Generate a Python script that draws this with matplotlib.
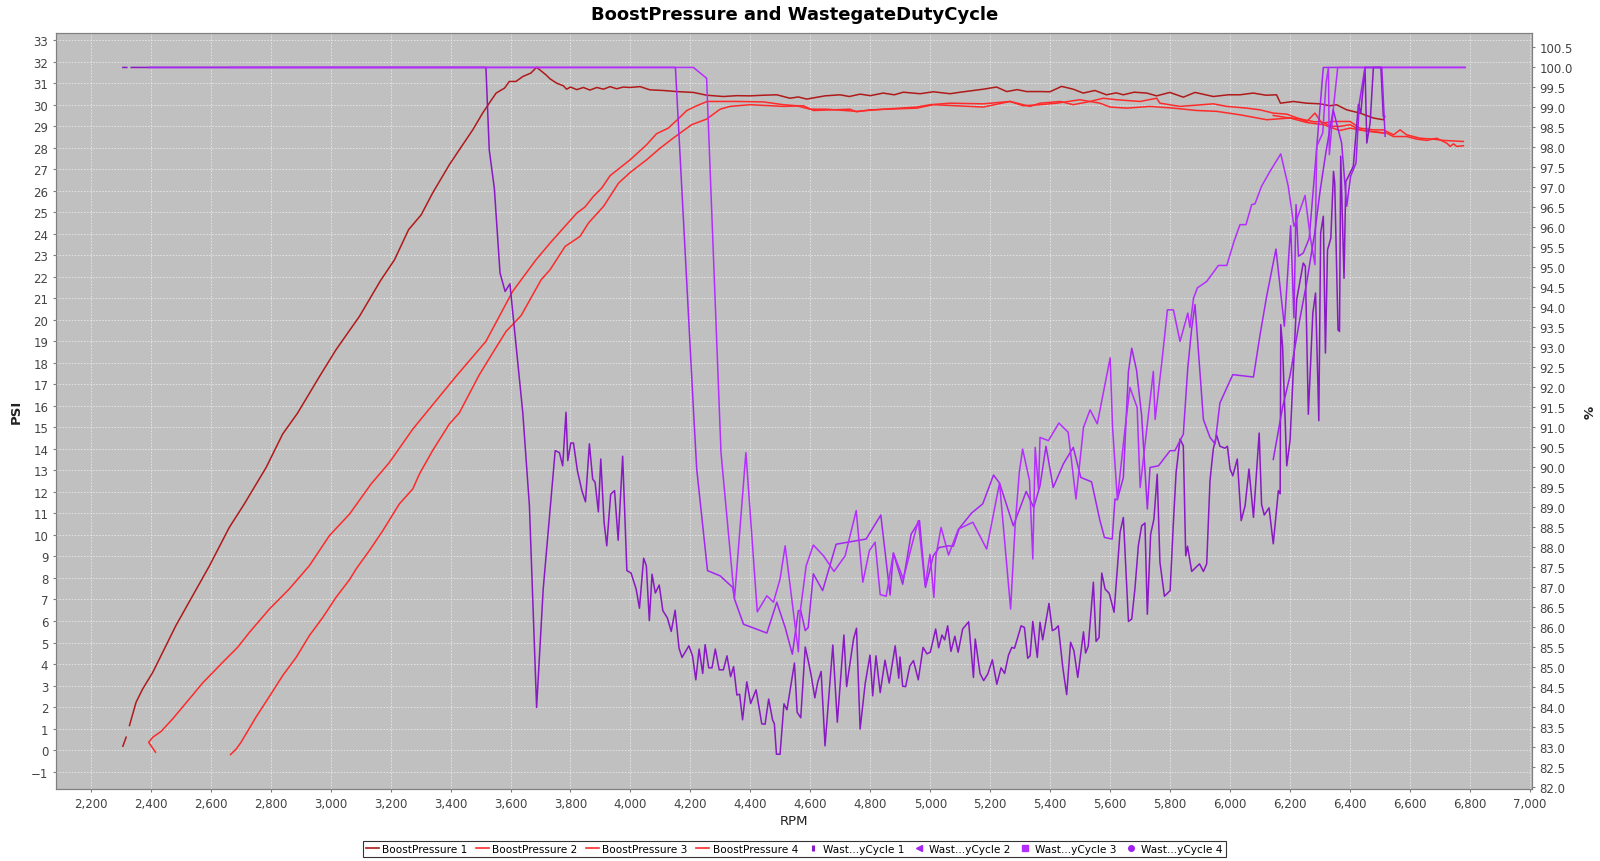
import numpy as np
import matplotlib
matplotlib.use('Agg')
import matplotlib.pyplot as plt
from matplotlib.lines import Line2D
from matplotlib.ticker import FuncFormatter, MultipleLocator

nan = np.nan

# ---------------- boost pressure (PSI) ----------------
boost1_rpm = [2307, 2318, nan, 2329, 2351, 2373, 2407, 2440, 2484, 2540, 2596, 2662, 2712, 2785, 2840,
              2890, 2963, 3018, 3096, 3168, 3213, 3260, 3302, 3340, 3396, 3429, 3474, 3507, 3529, 3552,
              3580, 3596, 3618, 3641, 3668, 3687, 3718, 3732, 3754, 3776, 3787, 3800, 3821, 3843, 3865,
              3888, 3910, 3932, 3954, 3976, 3998, 4032, 4065, 4110, 4154, 4210, 4254, 4310, 4355, 4399,
              4444, 4488, 4532, 4560, 4588, 4620, 4649, 4699, 4730, 4766, 4800, 4843, 4880, 4910, 4966,
              5010, 5066, 5100, 5144, 5177, 5221, 5255, 5290, 5321, 5366, 5399, 5438, 5477, 5510, 5549,
              5588, 5620, 5644, 5680, 5722, 5755, 5799, 5844, 5883, 5944, 5994, 6033, 6077, 6120, 6155,
              6168, 6211, 6255, 6300, 6333, 6355, 6389, 6433, 6478, 6511, 6516]
boost1_psi = [0.18, 0.6, nan, 1.14, 2.22, 2.84, 3.62, 4.55, 5.79, 7.18, 8.57, 10.35, 11.44, 13.14, 14.69,
              15.67, 17.37, 18.61, 20.16, 21.86, 22.79, 24.19, 24.88, 25.89, 27.21, 27.9, 28.83, 29.61, 30.07, 30.54,
              30.77, 31.08, 31.08, 31.31, 31.47, 31.74, 31.39, 31.2, 31.0, 30.88, 30.72, 30.82, 30.7, 30.8, 30.68,
              30.8, 30.72, 30.84, 30.74, 30.82, 30.8, 30.84, 30.69, 30.66, 30.61, 30.57, 30.44, 30.38, 30.42, 30.41,
              30.44, 30.46, 30.3, 30.36, 30.26, 30.34, 30.41, 30.46, 30.38, 30.49, 30.42, 30.54, 30.46, 30.58, 30.51,
              30.6, 30.51, 30.58, 30.66, 30.72, 30.82, 30.61, 30.7, 30.61, 30.61, 30.6, 30.85, 30.72, 30.54, 30.66,
              30.46, 30.55, 30.46, 30.58, 30.54, 30.41, 30.57, 30.35, 30.57, 30.38, 30.46, 30.46, 30.54, 30.44, 30.46,
              30.07, 30.15, 30.07, 30.04, 29.95, 30.0, 29.76, 29.61, 29.38, 29.3, 29.45]

boost2_rpm = [2416, 2393, 2407, 2434, 2473, 2529, 2573, 2640, 2690, 2729, 2796, 2862, 2929, 2996, 3063,
              3135, 3196, 3274, 3318, 3418, 3518, 3607, 3685, 3732, 3776, 3821, 3848, 3876, 3904, 3932,
              3999, 4054, 4087, 4126, 4154, 4188, 4221, 4256, 4299, 4354, 4443, 4510, 4554, 4599, 4654,
              4754, 4843, 4955, 5000, 5066, 5177, 5266, 5310, 5366, 5422, 5499, 5566, 5600, 5655, 5733,
              5811, 5889, 5955, 6033, 6122, 6200, 6256, 6311, 6366, 6400, 6444, 6522, 6545, 6589, 6623,
              6656, 6689, 6723, 6734, 6745, 6756, 6778]
boost2_psi = [-0.1, 0.36, 0.6, 0.86, 1.45, 2.38, 3.12, 4.08, 4.78, 5.47, 6.56, 7.49, 8.57, 9.97, 10.97,
              12.37, 13.37, 14.92, 15.67, 17.37, 19.0, 21.32, 22.79, 23.57, 24.26, 24.96, 25.24, 25.73, 26.12, 26.7,
              27.44, 28.14, 28.65, 28.91, 29.27, 29.73, 29.95, 30.15, 30.15, 30.15, 30.13, 30.0, 29.95, 29.79, 29.79,
              29.69, 29.79, 29.89, 30.0, 30.07, 30.04, 30.15, 29.95, 30.0, 30.07, 30.23, 30.07, 29.89, 29.84, 29.92,
              29.84, 29.73, 29.69, 29.53, 29.3, 29.38, 29.17, 29.07, 28.8, 28.91, 28.8, 28.68, 28.52, 28.52, 28.4,
              28.34, 28.44, 28.21, 28.06, 28.18, 28.06, 28.09]

boost3_rpm = [2666, 2685, 2701, 2751, 2796, 2840, 2885, 2929, 2974, 3018, 3063, 3085, 3129, 3174, 3229,
              3274, 3296, 3340, 3396, 3429, 3496, 3540, 3585, 3635, 3702, 3732, 3782, 3832, 3860, 3910,
              3960, 3999, 4054, 4099, 4143, 4204, 4254, 4299, 4332, 4399, 4510, 4577, 4610, 4732, 4754,
              4799, 4955, 5010, 5177, 5266, 5333, 5366, 5433, 5477, 5533, 5577, 5622, 5700, 5755, 5766,
              5833, 5944, 5989, 6056, 6100, 6144, 6189, 6256, 6283, 6306, 6344, 6400, 6433, 6478, 6511,
              6545, 6567, 6589, 6634, 6678, 6711, 6778]
boost3_psi = [-0.21, 0.05, 0.36, 1.53, 2.5, 3.46, 4.31, 5.32, 6.17, 7.1, 7.92, 8.42, 9.27, 10.2, 11.44,
              12.14, 12.83, 13.92, 15.16, 15.67, 17.45, 18.45, 19.46, 20.19, 21.86, 22.33, 23.41, 23.88, 24.5, 25.27,
              26.35, 26.85, 27.44, 27.98, 28.45, 29.07, 29.33, 29.79, 29.92, 30.0, 29.92, 29.95, 29.73, 29.79, 29.67,
              29.76, 29.84, 30.0, 29.89, 30.15, 29.92, 30.07, 30.15, 30.0, 30.15, 30.3, 30.23, 30.15, 30.3, 30.07,
              29.92, 30.04, 29.92, 29.84, 29.76, 29.61, 29.56, 29.22, 29.61, 29.14, 29.22, 29.22, 28.91, 28.83, 28.83,
              28.6, 28.83, 28.6, 28.44, 28.4, 28.34, 28.29]

boost4_rpm = [6144, 6189, 6230, 6283, 6300, 6340, 6366, 6400, 6433, 6470, 6511]
boost4_psi = [29.5, 29.4, 29.35, 29.2, 29.22, 29.0, 28.99, 29.07, 28.83, 28.75, 28.68]

# ---------------- wastegate duty cycle (%) ----------------
wdc1_rpm = [2307, 2320, nan, 2335, 3518, 3529, 3546, 3565, 3582, 3598, 3641, 3663, 3687, 3709, 3749,
            3763, 3774, 3785, 3791, 3801, 3810, 3823, 3838, 3850, 3863, 3874, 3882, 3893, 3901, 3912,
            3921, 3934, 3947, 3959, 3974, 3988, 4002, 4019, 4030, 4044, 4053, 4063, 4072, 4083, 4096,
            4108, 4123, 4136, 4149, 4162, 4172, 4195, 4207, 4218, 4229, 4241, 4249, 4261, 4272, 4283,
            4296, 4310, 4322, 4334, 4344, 4355, 4364, 4374, 4388, 4401, 4419, 4438, 4449, 4461, 4474,
            4480, 4487, 4499, 4512, 4522, 4547, 4556, 4568, 4583, 4596, 4603, 4615, 4625, 4636, 4649,
            4675, 4690, 4712, 4721, 4744, 4754, 4766, 4783, 4799, 4808, 4819, 4833, 4849, 4863, 4883,
            4895, 4899, 4908, 4918, 4932, 4944, 4960, 4976, 4989, 5000, 5018, 5028, 5039, 5048, 5058,
            5069, 5082, 5093, 5108, 5128, 5144, 5150, 5166, 5178, 5192, 5207, 5222, 5236, 5248, 5261,
            5272, 5281, 5303, 5314, 5325, 5333, 5342, 5357, 5366, 5375, 5396, 5407, 5417, 5427, 5442,
            5455, 5468, 5479, 5492, 5511, 5518, 5527, 5544, 5553, 5563, 5572, 5583, 5597, 5613, 5633,
            5644, 5661, 5672, 5683, 5694, 5705, 5716, 5724, 5735, 5746, 5757, 5766, 5781, 5800, 5811,
            5820, 5833, 5844, 5852, 5858, 5872, 5898, 5911, 5922, 5933, 5944, 5955, 5966, 5983, 5991,
            6000, 6009, 6024, 6037, 6050, 6063, 6078, 6097, 6105, 6114, 6130, 6144, 6161, 6167, 6169,
            6175, 6183, 6189, 6200, 6222, 6244, 6251, 6261, 6276, 6285, 6296, 6302, 6311, 6318, 6325,
            6336, 6345, 6349, 6360, 6365, 6369, 6380, 6386, 6395, 6411, 6428, 6436, 6450, 6456, 6467,
            6478, 6489, 6503, 6511]
wdc1_pct = [100, 100, nan, 100, 100, 97.94, 96.98, 94.86, 94.4, 94.59, 91.36, 89.04, 84.0, 86.96, 90.42,
            90.37, 90.04, 91.38, 90.17, 90.61, 90.61, 89.92, 89.42, 89.14, 90.59, 89.71, 89.63, 88.89, 90.21, 88.63,
            88.04, 89.33, 89.42, 88.18, 90.28, 87.42, 87.36, 86.96, 86.48, 87.73, 87.54, 86.17, 87.33, 86.86, 87.06,
            86.42, 86.24, 85.9, 86.43, 85.48, 85.25, 85.54, 85.29, 84.69, 85.46, 84.85, 85.57, 84.99, 84.99, 85.46,
            84.94, 84.94, 85.29, 84.77, 85.02, 84.31, 84.33, 83.69, 84.64, 84.1, 84.44, 83.59, 83.58, 84.21, 83.69,
            83.59, 82.83, 82.83, 84.09, 83.94, 85.11, 83.88, 83.74, 85.51, 85.06, 84.79, 84.24, 84.64, 84.9, 83.04,
            85.56, 83.63, 85.81, 84.52, 85.71, 85.98, 83.46, 84.6, 85.31, 84.29, 85.29, 84.37, 85.18, 84.61, 85.54,
            84.73, 85.26, 84.53, 84.52, 85.04, 85.17, 84.69, 85.5, 85.34, 85.38, 85.96, 85.49, 85.81, 85.69, 86.04,
            85.4, 85.78, 85.38, 85.96, 86.14, 84.75, 85.71, 84.85, 84.67, 84.84, 85.19, 84.58, 84.99, 84.85, 85.31,
            85.5, 85.48, 86.04, 86.0, 85.23, 85.29, 86.15, 85.25, 86.13, 85.69, 86.6, 85.92, 85.96, 86.04, 85.0,
            84.32, 85.63, 85.42, 84.75, 85.89, 85.36, 85.53, 87.13, 85.65, 85.75, 87.36, 86.96, 86.85, 86.38, 88.38,
            88.75, 86.15, 86.21, 87.0, 88.04, 88.54, 88.61, 86.33, 88.33, 88.71, 89.83, 87.63, 86.78, 86.92, 88.63,
            89.88, 90.71, 90.54, 87.79, 88.03, 87.4, 87.59, 87.4, 87.59, 89.67, 90.46, 90.81, 90.53, 90.48, 90.53,
            89.96, 89.79, 90.21, 88.67, 89.04, 89.96, 88.75, 90.86, 89.08, 88.81, 88.99, 88.09, 89.42, 89.34, 93.57,
            93.03, 91.36, 90.04, 90.67, 94.19, 95.11, 95.03, 91.33, 93.86, 94.36, 91.17, 95.86, 96.28, 92.86, 95.44,
            95.73, 97.4, 97.11, 93.44, 93.4, 97.78, 94.73, 97.15, 97.28, 97.53, 99.07, 98.86, 100, 98.11, 98.61,
            100, 100, 100, 98.78]

wdc2_rpm = [2393, 4150, 4210, 4221, 4257, 4299, 4341, 4347, 4377, 4455, 4488, 4516, 4540, 4560, 4568,
            4583, 4593, 4610, 4641, 4686, 4786, 4835, 4866, 4877, 4908, 4936, 4964, 4984, 5010, 5030,
            5061, 5077, 5097, 5138, 5175, 5211, 5231, 5277, 5320, 5345, 5366, 5386, 5410, 5444, 5477,
            5502, 5538, 5566, 5581, 5607, 5616, 5624, 5644, 5661, 5672, 5688, 5705, 5724, 5733, 5761,
            5800, 5816, 5844, 5859, 5872, 5883, 5911, 5933, 5950, 5966, 6009, 6078, 6100, 6122, 6153,
            6181, 6202, 6213, 6220, 6228, 6244, 6264, 6311, 6784]
wdc2_pct = [100, 100, 91.46, 89.96, 87.42, 87.29, 87.0, 86.71, 86.08, 85.86, 86.63, 86.0, 85.33, 86.42, 86.42,
            85.92, 86.0, 87.34, 86.92, 88.08, 88.21, 88.81, 86.81, 87.86, 87.08, 88.33, 88.67, 87.0, 87.79, 88.0,
            88.04, 88.03, 88.48, 88.86, 89.09, 89.81, 89.61, 88.54, 89.4, 89.0, 89.54, 90.53, 89.5, 90.09, 90.5,
            89.75, 89.64, 88.67, 88.25, 88.21, 89.21, 89.19, 89.75, 92.4, 92.98, 92.43, 91.3, 88.96, 90.0, 90.04,
            90.42, 90.42, 90.83, 92.5, 93.48, 94.07, 91.2, 90.75, 90.59, 91.61, 92.32, 92.26, 93.32, 94.28, 95.46,
            93.53, 96.04, 93.74, 96.57, 95.28, 95.36, 95.73, 100.0, 100]

wdc3_rpm = [2666, 4210, 4254, 4302, 4347, 4385, 4423, 4455, 4477, 4499, 4516, 4560, 4566, 4586, 4610,
            4644, 4679, 4716, 4753, 4775, 4797, 4816, 4833, 4853, 4877, 4910, 4938, 4960, 4983, 4999,
            5012, 5019, 5036, 5061, 5094, 5142, 5188, 5231, 5268, 5283, 5297, 5308, 5331, 5342, 5350,
            5361, 5366, 5394, 5429, 5460, 5486, 5511, 5533, 5557, 5600, 5608, 5624, 5650, 5666, 5690,
            5700, 5744, 5750, 5772, 5791, 5811, 5833, 5859, 5866, 5878, 5891, 5922, 5961, 5989, 6013,
            6033, 6053, 6072, 6083, 6105, 6133, 6169, 6194, 6213, 6222, 6250, 6267, 6283, 6289, 6309,
            6320, 6328, 6331, 6344, 6359, 6784]
wdc3_pct = [100, 100, 99.73, 90.37, 86.71, 90.37, 86.39, 86.79, 86.63, 87.21, 88.04, 85.39, 86.38, 87.54, 88.06,
            87.79, 87.4, 87.79, 88.92, 87.13, 87.92, 88.13, 86.82, 86.78, 87.86, 87.21, 88.04, 88.67, 87.04, 87.83,
            86.75, 87.79, 88.5, 87.81, 88.46, 88.63, 87.96, 89.61, 86.46, 88.54, 89.88, 90.46, 89.67, 87.71, 90.5,
            89.46, 90.75, 90.67, 91.11, 90.88, 89.21, 91.0, 91.44, 91.09, 92.74, 91.0, 89.2, 91.0, 92.0, 91.5,
            89.5, 92.4, 91.2, 92.61, 93.94, 93.94, 93.15, 93.86, 93.5, 94.23, 94.49, 94.65, 95.05, 95.05, 95.65,
            96.07, 96.07, 96.57, 96.59, 97.03, 97.4, 97.84, 97.03, 96.03, 96.19, 96.8, 95.78, 95.07, 98.03, 98.36,
            99.61, 100, 97.82, 98.94, 100, 100]

wdc4_rpm = [6144, 6175, 6200, 6230, 6255, 6283, 6300, 6320, 6344, 6372, 6389, 6402, 6420, 6431, 6450,
            6478, 6506, 6517]
wdc4_pct = [90.2, 91.5, 92.3, 93.6, 94.6, 95.9, 96.9, 97.9, 98.94, 98.11, 96.53, 97.28, 97.61, 99.11, 100,
            100, 100, 98.28]

# colours
c_boost1 = '#B01A1A'
c_boost = '#FF2A2A'
c_wdc1 = '#8A18C4'
c_wdc2 = '#A526F2'
c_wdc3 = '#B52EFF'
c_wdc4 = '#A020F0'

fig = plt.figure(figsize=(16, 8.62), dpi=100)
ax = fig.add_axes([0.035, 0.0835, 0.9225, 0.877])
ax2 = ax.twinx()

ax.set_facecolor('#C0C0C0')
lw = 1.1
ax.plot(boost1_rpm, boost1_psi, color=c_boost1, lw=lw)
ax.plot(boost2_rpm, boost2_psi, color=c_boost, lw=lw)
ax.plot(boost3_rpm, boost3_psi, color=c_boost, lw=lw)
ax.plot(boost4_rpm, boost4_psi, color=c_boost, lw=lw)

ax2.plot(wdc1_rpm, wdc1_pct, color=c_wdc1, lw=lw)
ax2.plot(wdc2_rpm, wdc2_pct, color=c_wdc2, lw=lw)
ax2.plot(wdc3_rpm, wdc3_pct, color=c_wdc3, lw=lw)
ax2.plot(wdc4_rpm, wdc4_pct, color=c_wdc4, lw=lw)

ax.set_xlim(2084, 7007)
ax.set_ylim(-1.81, 33.33)
ax2.set_ylim(81.96, 100.86)

ax.xaxis.set_major_locator(MultipleLocator(200))
ax.xaxis.set_major_formatter(FuncFormatter(lambda v, p: f'{v:,.0f}'))
ax.yaxis.set_major_locator(MultipleLocator(1))
ax2.yaxis.set_major_locator(MultipleLocator(0.5))
ax2.yaxis.set_major_formatter(FuncFormatter(lambda v, p: f'{v:.1f}'))

# light dashed grid like the original chart
ax.grid(True, color='#EDEDED', linestyle=(0, (2, 2)), linewidth=0.55)
ax.set_axisbelow(True)

for a in (ax, ax2):
    a.tick_params(direction='out', length=2.5, width=0.8, color='#808080',
                  labelcolor='#444444', labelsize=8.5, pad=3)
    for s in a.spines.values():
        s.set_color('#808080')

ax.set_xlabel('RPM', fontsize=9.5, color='#222222', labelpad=3)
ax.set_ylabel('PSI', fontsize=9.5, color='#222222', fontweight='bold', labelpad=6)
ax2.set_ylabel('%', fontsize=9.5, color='#222222', fontweight='bold', labelpad=8)

fig.suptitle('BoostPressure and WastegateDutyCycle', x=0.4965, y=0.993,
             fontsize=13, fontweight='bold', va='top')

handles = [
    Line2D([], [], color=c_boost1, lw=1.2),
    Line2D([], [], color=c_boost, lw=1.2),
    Line2D([], [], color=c_boost, lw=1.2),
    Line2D([], [], color=c_boost, lw=1.2),
    Line2D([], [], color=c_wdc1, ls='none', marker='|', markersize=5, markeredgewidth=2.2),
    Line2D([], [], color=c_wdc2, ls='none', marker='<', markersize=4),
    Line2D([], [], color=c_wdc3, ls='none', marker='s', markersize=4),
    Line2D([], [], color=c_wdc4, ls='none', marker='o', markersize=4),
]
labels = ['BoostPressure 1', 'BoostPressure 2', 'BoostPressure 3', 'BoostPressure 4',
          'Wast...yCycle 1', 'Wast...yCycle 2', 'Wast...yCycle 3', 'Wast...yCycle 4']
leg = fig.legend(handles, labels, loc='lower center', bbox_to_anchor=(0.4965, 0.002), ncol=8,
                 fontsize=7.6, frameon=True, fancybox=False, handlelength=1.2, handletextpad=0.35,
                 columnspacing=0.8, borderpad=0.3, borderaxespad=0.2)
leg.get_frame().set_edgecolor('black')
leg.get_frame().set_linewidth(0.8)

fig.savefig('out.png', dpi=100, facecolor='white')
